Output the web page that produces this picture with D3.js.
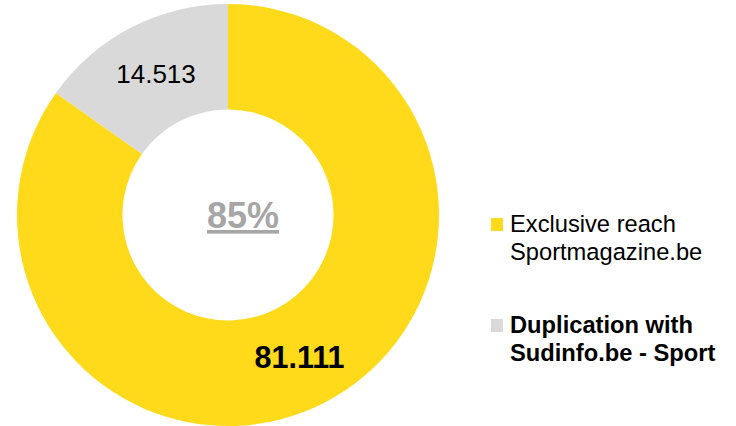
<!DOCTYPE html>
<html><head><meta charset="utf-8">
<script src="https://cdn.jsdelivr.net/npm/d3@7"></script>
<style>body{margin:0;background:#fff}svg{display:block}text{font-family:"Liberation Sans",Arial,sans-serif}</style>
</head><body>
<svg id="c" width="736" height="426"></svg>
<script>
const categories = ["Exclusive reach Sportmagazine.be", "Duplication with Sudinfo.be - Sport"];
const values = [81111, 14513];
const valueLabels = ["81.111", "14.513"];
const centerLabel = "85%";
const legendLines = [["Exclusive reach", "Sportmagazine.be"], ["Duplication with", "Sudinfo.be - Sport"]];
const colors = ["#FEDA1A", "#D9D9D9"];

const svg = d3.select("#c");
const cx = 228, cy = 215, R = 211, r = 105.5;
const g = svg.append("g").attr("transform", `translate(${cx},${cy})`);
const pie = d3.pie().sort(null).value(d => d);
const arcs = pie(values);
const arc = d3.arc().innerRadius(r).outerRadius(R);
g.selectAll("path").data(arcs).enter().append("path")
  .attr("d", arc).attr("fill", (d, i) => colors[i]);

// value labels
const lblPos = [[71.5, 153], [-72, -132]];
g.append("text").attr("x", lblPos[0][0]).attr("y", lblPos[0][1])
  .attr("text-anchor", "middle").attr("font-size", 30.5).attr("font-weight", "bold")
  .attr("fill", "#000").text(valueLabels[0]);
g.append("text").attr("x", lblPos[1][0]).attr("y", lblPos[1][1])
  .attr("text-anchor", "middle").attr("font-size", 26)
  .attr("fill", "#000").text(valueLabels[1]);

// center label
g.append("text").attr("x", 15).attr("y", 13)
  .attr("text-anchor", "middle").attr("font-size", 36).attr("font-weight", "bold")
  .attr("fill", "#A6A6A6").attr("text-decoration", "underline").text(centerLabel);

// legend
const lg = svg.append("g");
const ly = [232, 333];
legendLines.forEach((lines, i) => {
  lg.append("rect").attr("x", 491).attr("y", ly[i] - 14).attr("width", 12).attr("height", 13)
    .attr("fill", colors[i]);
  lines.forEach((t, j) => {
    lg.append("text").attr("x", 510).attr("y", ly[i] + j * 28)
      .attr("font-size", 23.7).attr("font-weight", i === 1 ? "bold" : "normal")
      .attr("fill", "#000").text(t);
  });
});
</script>
</body></html>
